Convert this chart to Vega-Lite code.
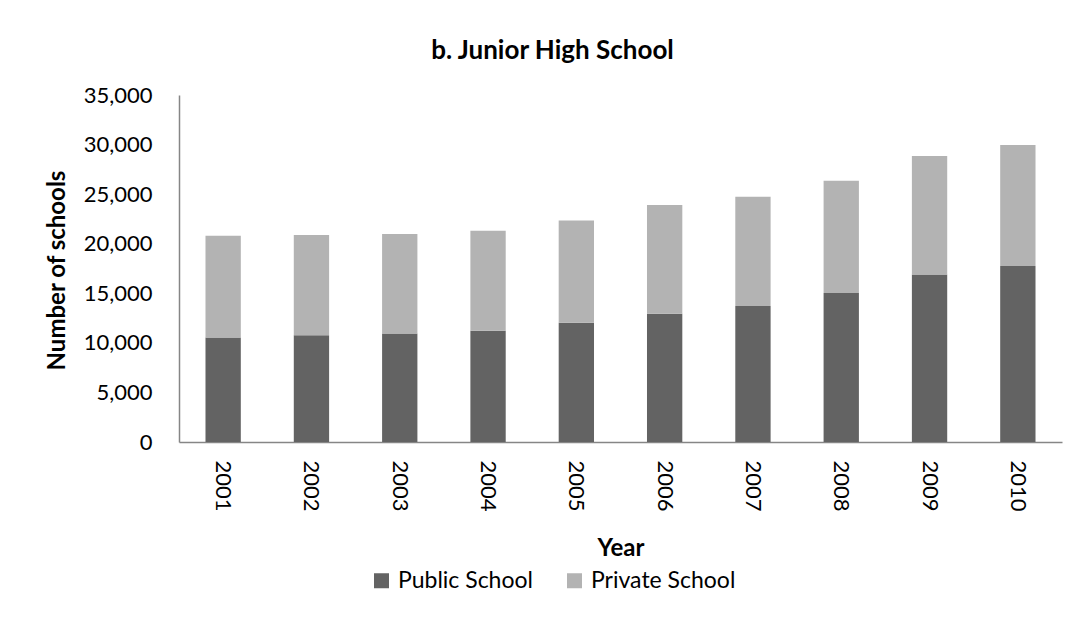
{
  "$schema": "https://vega.github.io/schema/vega-lite/v6.json",
  "autosize": "none",
  "width": 883,
  "height": 347,
  "padding": {"left": 179, "top": 95, "right": 27, "bottom": 185},
  "background": "white",
  "title": {
    "text": "b. Junior High School",
    "font": "Lato",
    "fontSize": 26,
    "fontWeight": "bold",
    "color": "#000000",
    "anchor": "middle",
    "dx": -68,
    "offset": 20
  },
  "data": {
    "values": [
      {"year": "2001", "type": "Public School", "schools": 10540},
      {"year": "2001", "type": "Private School", "schools": 10260},
      {"year": "2002", "type": "Public School", "schools": 10770},
      {"year": "2002", "type": "Private School", "schools": 10100},
      {"year": "2003", "type": "Public School", "schools": 10940},
      {"year": "2003", "type": "Private School", "schools": 10030},
      {"year": "2004", "type": "Public School", "schools": 11210},
      {"year": "2004", "type": "Private School", "schools": 10090},
      {"year": "2005", "type": "Public School", "schools": 12020},
      {"year": "2005", "type": "Private School", "schools": 10330},
      {"year": "2006", "type": "Public School", "schools": 12930},
      {"year": "2006", "type": "Private School", "schools": 10970},
      {"year": "2007", "type": "Public School", "schools": 13730},
      {"year": "2007", "type": "Private School", "schools": 11010},
      {"year": "2008", "type": "Public School", "schools": 15040},
      {"year": "2008", "type": "Private School", "schools": 11310},
      {"year": "2009", "type": "Public School", "schools": 16900},
      {"year": "2009", "type": "Private School", "schools": 11940},
      {"year": "2010", "type": "Public School", "schools": 17740},
      {"year": "2010", "type": "Private School", "schools": 12210}
    ]
  },
  "mark": {"type": "bar", "stroke": null},
  "encoding": {
    "x": {
      "field": "year",
      "type": "ordinal",
      "scale": {"paddingInner": 0.6, "paddingOuter": 0.3},
      "axis": {
        "title": "Year",
        "labelAngle": 90,
        "labelFont": "Lato",
        "labelFontSize": 22,
        "labelColor": "#000000",
        "labelPadding": 18,
        "ticks": false,
        "domainColor": "#868686",
        "domainWidth": 1.5,
        "titleFont": "Lato",
        "titleFontSize": 24,
        "titleFontWeight": "bold",
        "titleColor": "#000000",
        "titleBaseline": "middle",
        "titleY": 106
      }
    },
    "y": {
      "field": "schools",
      "type": "quantitative",
      "stack": "zero",
      "scale": {"domain": [0, 35000], "nice": false},
      "axis": {
        "title": "Number of schools",
        "values": [0, 5000, 10000, 15000, 20000, 25000, 30000, 35000],
        "format": ",.0f",
        "grid": false,
        "ticks": false,
        "labelFont": "Lato",
        "labelFontSize": 22,
        "labelColor": "#000000",
        "labelPadding": 27,
        "domainColor": "#868686",
        "domainWidth": 1.5,
        "titleFont": "Lato",
        "titleFontSize": 24,
        "titleFontWeight": "bold",
        "titleColor": "#000000",
        "titleX": -122,
        "titleY": 175,
        "titleBaseline": "middle"
      }
    },
    "color": {
      "field": "type",
      "type": "nominal",
      "scale": {"domain": ["Public School", "Private School"], "range": ["#636363", "#b3b3b3"]},
      "legend": {
        "title": null,
        "orient": "none",
        "direction": "horizontal",
        "legendX": 191,
        "legendY": 474,
        "symbolType": "square",
        "symbolSize": 225,
        "symbolStrokeWidth": 0,
        "labelFont": "Lato",
        "labelFontSize": 23,
        "labelColor": "#000000",
        "labelOffset": 5,
        "columnPadding": 30
      }
    },
    "order": {"field": "type", "sort": "descending"}
  },
  "config": {"view": {"stroke": null}}
}
